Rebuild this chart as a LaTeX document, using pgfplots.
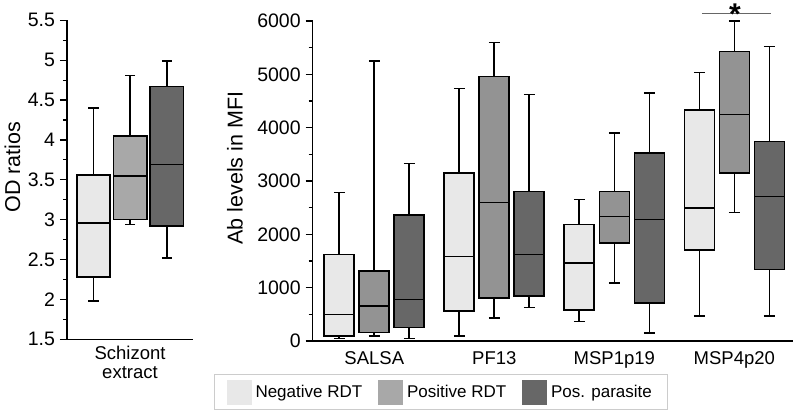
\documentclass[border=0pt]{standalone}
\usepackage{fontspec}
\setmainfont{Liberation Sans}
\usepackage{pgfplots}
\pgfplotsset{compat=1.18}
\usepgfplotslibrary{statistics}

\definecolor{negc}{HTML}{E8E8E8}
\definecolor{posc}{HTML}{A8A8A8}
\definecolor{posd}{HTML}{939393}
\definecolor{parc}{HTML}{676767}

\pgfplotsset{
  bx/.style={draw=black, line width=1.6pt, forget plot, solid},
  common/.style={
    scale only axis,
    axis x line=bottom, axis y line=left,
    axis line style={-, line width=1.5pt},
    tick align=outside,
    major tick length=7pt, minor tick length=4pt,
    ytick style={line width=1.2pt, black},
    minor y tick num=1,
    xtick style={draw=none},
    /pgf/number format/assume math mode=true,
    yticklabel style={font=\fontsize{19.5}{22}\selectfont, xshift=-1.5pt},
    xticklabel style={font=\fontsize{18.5}{19}\selectfont},
    boxplot/draw direction=y,
    clip=false,
  },
}

\begin{document}
\begin{tikzpicture}
\useasboundingbox (0pt,-415pt) rectangle (797pt,0pt);

% left panel
\begin{axis}[common,
  at={(67pt,-339.3pt)}, anchor=origin,
  width=126pt, height=319pt,
  xmin=0, xmax=1, ymin=1.5, ymax=5.5,
  ytick={1.5,2,...,5.5},
  yticklabels={1.5,2,2.5,3,3.5,4,4.5,5,5.5},
  xtick={0.5}, xticklabels={Schizont\\extract},
  xticklabel style={align=center, yshift=4pt},
  ylabel={OD ratios},
  ylabel style={font=\fontsize{21.5}{22}\selectfont, anchor=center, at={(axis description cs:-0.4325,0.54)}},
]
\addplot[bx, fill=negc, boxplot prepared={draw position=0.21, box extend=0.264, whisker extend=0.08,
  lower whisker=1.98, lower quartile=2.28, median=2.96, upper quartile=3.56, upper whisker=4.40}] coordinates {};
\addplot[bx, fill=posc, boxplot prepared={draw position=0.502, box extend=0.264, whisker extend=0.08,
  lower whisker=2.94, lower quartile=3.00, median=3.55, upper quartile=4.05, upper whisker=4.81}] coordinates {};
\addplot[bx, fill=parc, boxplot prepared={draw position=0.792, box extend=0.264, whisker extend=0.08,
  lower whisker=2.52, lower quartile=2.92, median=3.69, upper quartile=4.67, upper whisker=4.99}] coordinates {};
\end{axis}

% right panel
\begin{axis}[common,
  at={(312.7pt,-341pt)}, anchor=origin,
  width=480.3pt, height=320pt,
  xmin=0.487, xmax=4.489, ymin=0, ymax=6000,
  ytick={0,1000,...,6000},
  yticklabels={0,1000,2000,3000,4000,5000,6000},
  xtick={1,2,3,4}, xticklabels={SALSA,PF13,MSP1p19,MSP4p20},
  ylabel={Ab levels in MFI},
  ylabel style={font=\fontsize{21.5}{22}\selectfont, anchor=center, at={(axis description cs:-0.1618,0.54)}},
  legend columns=3,
  legend style={at={(0.2677,-0.104)}, anchor=north,
    draw=black!20, line width=0.8pt,
    font=\fontsize{17}{19}\selectfont,
    inner xsep=12pt, inner ysep=5pt,
    nodes={inner sep=4pt, font=\fontsize{17}{19}\selectfont},
    /tikz/every even column/.append style={column sep=12pt}},
]
\addlegendimage{legend image code/.code={\fill[negc] (0pt,-12pt) rectangle (24pt,12pt);}}
\addlegendentry{Negative RDT}
\addlegendimage{legend image code/.code={\fill[posc] (0pt,-12pt) rectangle (24pt,12pt);}}
\addlegendentry{Positive RDT}
\addlegendimage{legend image code/.code={\fill[parc] (0pt,-12pt) rectangle (24pt,12pt);}}
\addlegendentry{Pos. parasite}

% SALSA
\addplot[bx, fill=negc, boxplot prepared={draw position=0.7083, box extend=0.25, whisker extend=0.09,
  lower whisker=50, lower quartile=94, median=500, upper quartile=1625, upper whisker=2781}] coordinates {};
\addplot[bx, fill=posd, boxplot prepared={draw position=1, box extend=0.25, whisker extend=0.09,
  lower whisker=94, lower quartile=156, median=656, upper quartile=1312, upper whisker=5250}] coordinates {};
\addplot[bx, fill=parc, boxplot prepared={draw position=1.2917, box extend=0.25, whisker extend=0.09,
  lower whisker=50, lower quartile=250, median=775, upper quartile=2362, upper whisker=3331}] coordinates {};
% PF13
\addplot[bx, fill=negc, boxplot prepared={draw position=1.7083, box extend=0.25, whisker extend=0.09,
  lower whisker=94, lower quartile=562, median=1587, upper quartile=3150, upper whisker=4738}] coordinates {};
\addplot[bx, fill=posd, boxplot prepared={draw position=2, box extend=0.25, whisker extend=0.09,
  lower whisker=437, lower quartile=812, median=2594, upper quartile=4962, upper whisker=5594}] coordinates {};
\addplot[bx, fill=parc, boxplot prepared={draw position=2.2917, box extend=0.25, whisker extend=0.09,
  lower whisker=625, lower quartile=844, median=1619, upper quartile=2806, upper whisker=4619}] coordinates {};
% MSP1p19
\addplot[bx, fill=negc, boxplot prepared={draw position=2.7083, box extend=0.25, whisker extend=0.09,
  lower whisker=369, lower quartile=587, median=1462, upper quartile=2181, upper whisker=2650}] coordinates {};
\addplot[bx, fill=posd, boxplot prepared={draw position=3, box extend=0.25, whisker extend=0.09,
  lower whisker=1087, lower quartile=1837, median=2337, upper quartile=2806, upper whisker=3900}] coordinates {};
\addplot[bx, fill=parc, boxplot prepared={draw position=3.2917, box extend=0.25, whisker extend=0.09,
  lower whisker=150, lower quartile=712, median=2275, upper quartile=3525, upper whisker=4650}] coordinates {};
% MSP4p20
\addplot[bx, fill=negc, boxplot prepared={draw position=3.7083, box extend=0.25, whisker extend=0.09,
  lower whisker=469, lower quartile=1712, median=2494, upper quartile=4337, upper whisker=5031}] coordinates {};
\addplot[bx, fill=posd, boxplot prepared={draw position=4, box extend=0.25, whisker extend=0.09,
  lower whisker=2406, lower quartile=3150, median=4244, upper quartile=5431, upper whisker=6000}] coordinates {};
\addplot[bx, fill=parc, boxplot prepared={draw position=4.2917, box extend=0.25, whisker extend=0.09,
  lower whisker=469, lower quartile=1344, median=2712, upper quartile=3744, upper whisker=5525}] coordinates {};

% significance bar
\draw[black!60, line width=0.8pt] (axis cs:3.7305,6144) -- (axis cs:4.308,6144);
\node[font=\fontsize{30}{30}\selectfont\bfseries, inner sep=0pt] at (axis cs:4.005,6126) {*};
\end{axis}
\end{tikzpicture}
\end{document}
